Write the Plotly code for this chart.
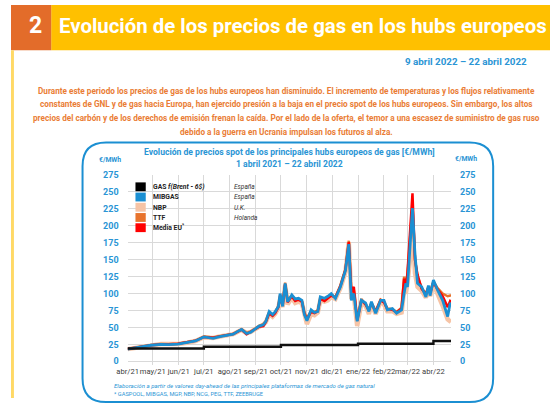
import plotly.graph_objects as go

# ---- data ----
dates = [
    "2021-04-01", "2021-04-10", "2021-04-20", "2021-04-29", "2021-05-11", "2021-05-20",
    "2021-05-31", "2021-06-11", "2021-06-21", "2021-07-01", "2021-07-12", "2021-07-20",
    "2021-07-30", "2021-08-05", "2021-08-11", "2021-08-15", "2021-08-21", "2021-08-26",
    "2021-09-05", "2021-09-10", "2021-09-13", "2021-09-17", "2021-09-21", "2021-09-24",
    "2021-09-28", "2021-09-30", "2021-10-03", "2021-10-06", "2021-10-09", "2021-10-14",
    "2021-10-18", "2021-10-22", "2021-10-26", "2021-10-29", "2021-11-01", "2021-11-06",
    "2021-11-10", "2021-11-14", "2021-11-17", "2021-11-22", "2021-11-26", "2021-11-30",
    "2021-12-05", "2021-12-11", "2021-12-17", "2021-12-21", "2021-12-24", "2021-12-27",
    "2021-12-31", "2022-01-05", "2022-01-10", "2022-01-14", "2022-01-17", "2022-01-22",
    "2022-01-28", "2022-02-01", "2022-02-05", "2022-02-11", "2022-02-16", "2022-02-22",
    "2022-02-25", "2022-02-27", "2022-03-01", "2022-03-04", "2022-03-07", "2022-03-10",
    "2022-03-13", "2022-03-18", "2022-03-23", "2022-03-26", "2022-03-28", "2022-04-01",
    "2022-04-06", "2022-04-12", "2022-04-18", "2022-04-21", "2022-04-22",
]
mibgas = [
    18, 20, 21.5, 23.7, 25, 24.5, 25.5, 27.6, 30, 36, 34, 36.5,
    38, 40, 44.5, 47, 41, 43, 52, 54, 59, 73.5, 69, 73,
    81, 100, 81, 115, 88, 98, 92, 93, 90, 69, 60, 76,
    72, 73.5, 95, 93, 96, 100, 93, 110, 134, 173, 90, 100,
    59, 90, 86, 73.5, 88, 71, 90, 90, 76, 78, 71, 76,
    100, 115, 110, 173, 226, 158, 115, 110, 95, 112, 97, 120,
    105, 90, 66, 86, 84,
]
ttf = [
    18.5, 20.5, 22, 24, 25.5, 25, 26, 28, 30.5, 36.5, 35, 37,
    38.5, 40.5, 44.5, 47, 42, 44, 52.5, 55, 59.5, 72, 68, 72,
    82, 98, 84, 116, 90, 97, 90, 92, 89, 72, 64, 74,
    73, 75, 93, 90, 94, 98, 95, 112, 136, 178, 100, 105,
    62, 92, 84, 76, 86, 74, 91, 88, 78, 77, 73, 79,
    125, 112, 128, 185, 232, 150, 125, 108, 100, 110, 102, 118,
    108, 100, 96, 97, 97,
]
nbp = [
    18, 20, 21.5, 23.5, 25.5, 25.5, 25.5, 27.5, 30, 35.5, 34.5, 36.5,
    38.5, 40, 44, 46.5, 41.5, 43.5, 51, 54, 58, 70, 66, 70,
    79, 92, 80, 112, 84, 94, 86, 88, 86, 66, 55, 70,
    68, 72, 90, 88, 90, 95, 92, 108, 132, 176, 92, 98,
    52, 86, 82, 70, 84, 70, 88, 84, 74, 74, 70, 72,
    105, 100, 115, 150, 200, 130, 110, 104, 94, 105, 96, 114,
    100, 82, 62, 58, 58,
]
media_eu = [
    18.3, 20.3, 21.8, 23.8, 25.3, 25, 25.8, 27.8, 30.3, 36, 34.7, 36.8,
    38.3, 40.3, 44.3, 46.8, 40, 43.5, 51, 52, 58, 71, 67, 71,
    80, 96, 82, 114, 87, 96, 89, 91, 88, 70, 62, 73,
    71, 74, 92, 89, 93, 97, 94, 111, 135, 176, 102, 110,
    60, 90, 84, 75, 86, 73, 90, 87, 77, 76, 72, 78,
    122, 110, 130, 190, 248, 150, 128, 107, 99, 109, 100, 117,
    106, 96, 80, 89, 88,
]
gas_dates = ["2021-04-01", "2021-07-01", "2021-10-01", "2022-01-01", "2022-04-01", "2022-04-22"]
gas_brent = [19, 21.5, 24, 26, 30, 30]

month_ticks = ["2021-04-01", "2021-05-01", "2021-06-01", "2021-07-01", "2021-08-01",
               "2021-09-01", "2021-10-01", "2021-11-01", "2021-12-01", "2022-01-01",
               "2022-02-01", "2022-03-01", "2022-04-01"]
month_labels = ["abr/21", "may/21", "jun/21", "jul/21", "ago/21", "sep/21", "oct/21",
                "nov/21", "dic/21", "ene/22", "feb/22", "mar/22", "abr/22"]
y_ticks = [0, 25, 50, 75, 100, 125, 150, 175, 200, 225, 250, 275]

legend_names = ["GAS <i>f(Brent - 6$)</i>", "MIBGAS", "NBP", "TTF", "Media EU<sup>*</sup>"]
legend_places = ["España", "España", "U.K.", "Holanda", ""]

paragraph = [
    "Durante este periodo los precios de gas de los hubs europeos han disminuido. El incremento de temperaturas y los flujos relativamente",
    "constantes de GNL y de gas hacia Europa, han ejercido presión a la baja en el precio spot de los hubs europeos. Sin embargo, los altos",
    "precios del carbón y de los derechos de emisión frenan la caída. Por el lado de la oferta, el temor a una escasez de suministro de gas ruso",
    "debido a la guerra en Ucrania impulsan los futuros al alza.",
]

# ---- styles ----
W, H = 550, 406
BLUE = "#1b8fd2"
TXTBLUE = "#2a95d5"
FONT = "Roboto, Liberation Sans, sans-serif"
colors = ["#000000", BLUE, "#f6c4a6", "#e8732c", "#ff0000"]


def px(x):
    return x / W


def py(y):
    return 1 - y / H


def label(text, x, y, size, color, xanchor="center"):
    return dict(text=text, x=px(x), y=py(y), xref="paper", yref="paper", showarrow=False,
                xanchor=xanchor, yanchor="middle", font=dict(size=size, color=color, family=FONT))


fig = go.Figure()
fig.add_trace(go.Scatter(x=dates, y=nbp, mode="lines", line=dict(color=colors[2], width=4.5)))
fig.add_trace(go.Scatter(x=dates, y=ttf, mode="lines", line=dict(color=colors[3], width=2.5)))
fig.add_trace(go.Scatter(x=dates, y=media_eu, mode="lines", line=dict(color=colors[4], width=2.5)))
fig.add_trace(go.Scatter(x=dates, y=mibgas, mode="lines", line=dict(color=colors[1], width=2.8)))
fig.add_trace(go.Scatter(x=gas_dates, y=gas_brent, mode="lines",
                         line=dict(color="#111111", width=2.4, shape="hv"), yaxis="y2"))

shapes = [
    dict(type="rect", xref="paper", yref="paper", x0=px(41), x1=1, y0=py(46), y1=1,
         fillcolor="#ffc000", line_width=0, layer="below"),
    dict(type="rect", xref="paper", yref="paper", x0=0, x1=px(41), y0=py(46), y1=1,
         fillcolor="#e36c2a", line_width=0, layer="below"),
    dict(type="rect", xref="paper", yref="paper", x0=0, x1=px(3), y0=py(400), y1=py(46),
         fillcolor="#ffd966", line_width=0, layer="below"),
]
# rounded box around the chart
bx0, bx1, by0, by1, r = px(73), px(492), py(404), py(140), 24
rx, ry = r / W, r / H
path = (f"M {bx0 + rx},{by1} L {bx1 - rx},{by1} Q {bx1},{by1} {bx1},{by1 - ry} "
        f"L {bx1},{by0 + ry} Q {bx1},{by0} {bx1 - rx},{by0} L {bx0 + rx},{by0} "
        f"Q {bx0},{by0} {bx0},{by0 + ry} L {bx0},{by1 - ry} Q {bx0},{by1} {bx0 + rx},{by1} Z")
shapes.append(dict(type="path", xref="paper", yref="paper", path=path,
                   line=dict(color=BLUE, width=2), layer="below"))

annotations = [
    label("<b>2</b>", 24.5, 21, 23, "white"),
    label("<b>Evolución de los precios de gas en los hubs europeos</b>", 47, 21, 20.4, "white", xanchor="left"),
    label("<b>9 abril 2022 – 22 abril 2022</b>", 529, 58, 9.8, TXTBLUE, xanchor="right"),
    label("<b>Evolución de precios spot de los principales hubs europeos de gas [€/MWh]</b>", 284, 150, 8.6, TXTBLUE),
    label("<b>1 abril 2021 – 22 abril 2022</b>", 284, 162, 8.6, TXTBLUE),
    label("<b>€/MWh</b>", 101, 158, 6.8, TXTBLUE),
    label("<b>€/MWh</b>", 464, 157, 6.8, TXTBLUE),
    label("<i>Elaboración a partir de valores day-ahead de las principales plataformas de mercado de gas natural</i>",
          103, 387.5, 6.1, TXTBLUE, xanchor="left"),
    label("* GASPOOL, MIBGAS, MGP, NBP, NCG, PEG, TTF, ZEEBRUGE", 103, 395.5, 5.7, TXTBLUE, xanchor="left"),
]
for i, line in enumerate(paragraph):
    annotations.append(label(f"<b>{line}</b>", 281, 87 + i * 14, 8.2, "#ea7d35"))

# legend drawn by hand: colour squares + labels
for i, (name, place) in enumerate(zip(legend_names, legend_places)):
    top = 180.5 + i * 10.4
    shapes.append(dict(type="rect", xref="paper", yref="paper", x0=px(127), x1=px(137.5),
                       y0=py(top + 9), y1=py(top), fillcolor=colors[i], line_width=0))
    annotations.append(label(f"<b>{name}</b>", 143, top + 4.8, 6.8, "#222222", xanchor="left"))
    if place:
        annotations.append(label(f"<i>{place}</i>", 226, top + 4.8, 6.5, "#333333", xanchor="left"))

yax = dict(range=[-5, 275], tickvals=y_ticks, showgrid=True, gridcolor="#d9d9d9", gridwidth=1,
           zeroline=False, showline=False, ticklabelstandoff=8,
           tickfont=dict(size=9, color=TXTBLUE, family=FONT, weight="bold"),
           domain=[py(366), py(173)], fixedrange=True)

fig.update_layout(
    width=W, height=H, margin=dict(l=0, r=0, t=0, b=0),
    paper_bgcolor="white", plot_bgcolor="white", showlegend=False,
    xaxis=dict(range=["2021-04-01", "2022-04-22"], domain=[px(119), px(449)],
               tickvals=month_ticks, ticktext=month_labels, tickangle=0, showgrid=True,
               gridcolor="#d9d9d9", zeroline=False, showline=False, ticks="", ticklabelstandoff=1,
               tickfont=dict(size=7.6, color="#404040", family=FONT)),
    yaxis=dict(yax, side="left"),
    yaxis2=dict(yax, side="right", overlaying="y", showgrid=False),
    shapes=shapes, annotations=annotations,
)

# the page body has an 8px default margin; drop it so the figure fills the window
fig.write_html("out.html", config={"displayModeBar": False},
               post_script="document.body.style.margin='0';")
